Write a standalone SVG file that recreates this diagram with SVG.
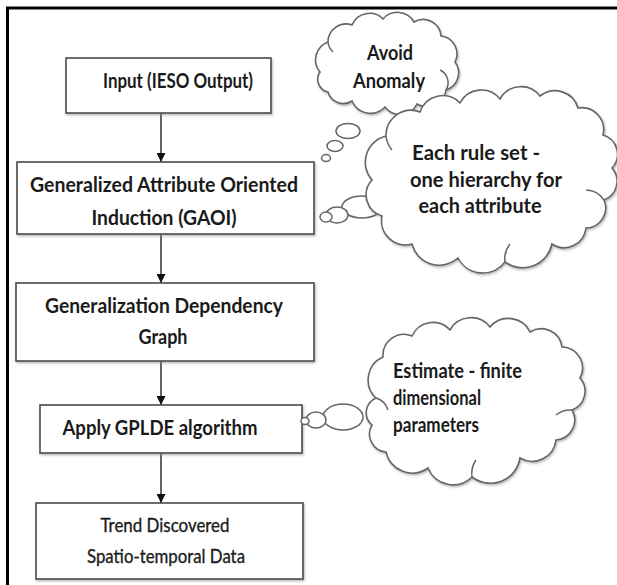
<svg xmlns="http://www.w3.org/2000/svg" width="617" height="585" viewBox="0 0 617 585">
<defs>
<style>
.box{fill:#fff;stroke:#4a4a4a;stroke-width:1.6;filter:url(#sh)}
.cloud{fill:#fff;stroke:#666;stroke-width:1.6;filter:url(#sh)}
.bub{fill:#fff;stroke:#666;stroke-width:1.5}
.inner{fill:none;stroke:#666;stroke-width:1.5}
.t{font-family:Lato,"Liberation Sans",sans-serif;font-weight:700;font-size:20px;fill:#1a1a1a;text-anchor:middle}
.tr{font-weight:400;stroke:#1a1a1a;stroke-width:0.35}
.tl{text-anchor:start}
.conn{stroke:#111;stroke-width:1.3;fill:none;marker-end:url(#ah)}
</style>
<filter id="sh" x="-10%" y="-10%" width="120%" height="130%">
<feDropShadow dx="1" dy="1.5" stdDeviation="0.8" flood-color="#888" flood-opacity="0.6"/>
</filter>
<marker id="ah" viewBox="0 0 10 10" refX="10" refY="5" markerUnits="userSpaceOnUse" markerWidth="10" markerHeight="9" orient="auto">
<path d="M0,0 L10,5 L0,10 z" fill="#111"/>
</marker>
</defs>
<rect width="617" height="585" fill="#fff"/>
<g id="frame">
<line x1="6" y1="8" x2="617" y2="8" stroke="#000" stroke-width="3"/>
<line x1="7.5" y1="7" x2="7.5" y2="585" stroke="#000" stroke-width="3"/>
</g>
<g id="connectors">
<line class="conn" x1="161" y1="113" x2="161" y2="162"/>
<line class="conn" x1="161" y1="234" x2="161" y2="283"/>
<line class="conn" x1="161" y1="361" x2="161" y2="405"/>
<line class="conn" x1="161" y1="453" x2="161" y2="503"/>
</g>
<g id="n1">
<rect class="box" x="66" y="58" width="205" height="55"/>
<text class="t" x="178" y="88" textLength="150" lengthAdjust="spacingAndGlyphs">Input (IESO Output)</text>
</g>
<g id="n2">
<rect class="box" x="17" y="162" width="297" height="72"/>
<text class="t" x="164" y="192" textLength="268" lengthAdjust="spacingAndGlyphs">Generalized Attribute Oriented</text>
<text class="t" x="164" y="225" textLength="145" lengthAdjust="spacingAndGlyphs">Induction (GAOI)</text>
</g>
<g id="n3">
<rect class="box" x="16" y="283" width="298" height="78"/>
<text class="t" x="164" y="313" textLength="238" lengthAdjust="spacingAndGlyphs">Generalization Dependency</text>
<text class="t" x="163" y="344" textLength="49" lengthAdjust="spacingAndGlyphs">Graph</text>
</g>
<g id="n4">
<rect class="box" x="40" y="405" width="262" height="48"/>
<text class="t" x="160" y="435" textLength="195" lengthAdjust="spacingAndGlyphs">Apply GPLDE algorithm</text>
</g>
<g id="n5">
<rect class="box" x="36" y="503" width="267" height="76"/>
<text class="t tr" x="165" y="532" textLength="129" lengthAdjust="spacingAndGlyphs">Trend Discovered</text>
<text class="t tr" x="166" y="563" textLength="158" lengthAdjust="spacingAndGlyphs">Spatio-temporal Data</text>
</g>
<g id="c1">
<ellipse class="bub" cx="348" cy="131" rx="12" ry="7.5"/>
<ellipse class="bub" cx="335" cy="146" rx="8" ry="5.5"/>
<ellipse class="bub" cx="326" cy="158" rx="4.5" ry="3.5"/>
<path class="cloud" d="M320,72 A19,19 0 0 1 328,42 A18,18 0 0 1 352,25 A19,19 0 0 1 383,19 A19,19 0 0 1 414,22 A18,18 0 0 1 441,36 A18,18 0 0 1 455,62 A18,18 0 0 1 446,90 A19,19 0 0 1 417,104 A19,19 0 0 1 385,107 A20,20 0 0 1 352,101 A16,16 0 0 1 328,92 A13,13 0 0 1 320,72 Z"/>
<path class="inner" d="M440,70 A14,14 0 0 1 446,90"/>
<path class="inner" d="M328,42 A16,16 0 0 0 333,52"/>
<text class="t" x="390" y="60" textLength="46" lengthAdjust="spacingAndGlyphs">Avoid</text>
<text class="t" x="389" y="88" textLength="72" lengthAdjust="spacingAndGlyphs">Anomaly</text>
</g>
<g id="c2">
<ellipse class="bub" cx="362" cy="207" rx="20" ry="11"/>
<ellipse class="bub" cx="337" cy="215" rx="11" ry="8"/>
<ellipse class="bub" cx="326" cy="217" rx="6" ry="5"/>
<path class="cloud" d="M372,180 A27,27 0 0 1 386,136 A25,25 0 0 1 420,112 A24,24 0 0 1 460,103 A24,24 0 0 1 500,99 A24,24 0 0 1 540,96 A24,24 0 0 1 578,108 A22,22 0 0 1 603,135 A20,20 0 0 1 612,168 A20,20 0 0 1 604,200 A20,20 0 0 1 586,228 A22,22 0 0 1 552,244 A30,30 0 0 1 505,262 A28,28 0 0 1 458,258 A28,28 0 0 1 412,244 A24,24 0 0 1 382,216 A22,22 0 0 1 372,180 Z"/>
<path class="inner" d="M586,190 A22,22 0 0 1 604,200"/>
<path class="inner" d="M386,136 A26,26 0 0 0 392,150"/>
<path class="inner" d="M505,262 A24,24 0 0 1 510,244"/>
<text class="t" x="476" y="160" textLength="128" lengthAdjust="spacingAndGlyphs">Each rule set -</text>
<text class="t" x="486" y="187" textLength="152" lengthAdjust="spacingAndGlyphs">one hierarchy for</text>
<text class="t" x="480" y="213" textLength="123" lengthAdjust="spacingAndGlyphs">each attribute</text>
</g>
<g id="c3">
<ellipse class="bub" cx="343" cy="417" rx="20" ry="13"/>
<ellipse class="bub" cx="316" cy="420" rx="10" ry="8"/>
<ellipse class="bub" cx="305" cy="421" rx="4" ry="3.5"/>
<path class="cloud" d="M376,398 A25,25 0 0 1 383,357 A21,21 0 0 1 412,336 A23,23 0 0 1 450,330 A24,24 0 0 1 490,327 A24,24 0 0 1 530,332 A21,21 0 0 1 562,347 A21,21 0 0 1 580,378 A20,20 0 0 1 572,410 A20,20 0 0 1 556,440 A24,24 0 0 1 520,458 A30,30 0 0 1 472,477 A27,27 0 0 1 428,468 A27,27 0 0 1 386,452 A18,18 0 0 1 372,425 A16,16 0 0 1 376,398 Z"/>
<path class="inner" d="M376,398 A18,18 0 0 1 388,410"/>
<path class="inner" d="M556,415 A22,22 0 0 1 572,410"/>
<path class="inner" d="M472,477 A24,24 0 0 1 476,460"/>
<text class="t tl" x="393" y="378" textLength="129" lengthAdjust="spacingAndGlyphs">Estimate - finite</text>
<text class="t tl" x="393" y="405" textLength="88" lengthAdjust="spacingAndGlyphs">dimensional</text>
<text class="t tl" x="393" y="432" textLength="86" lengthAdjust="spacingAndGlyphs">parameters</text>
</g>
</svg>
